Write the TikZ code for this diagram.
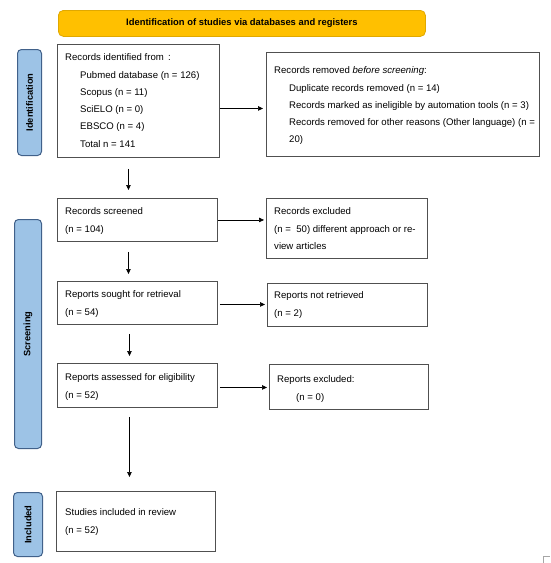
\documentclass[tikz,border=0pt]{standalone}
\usepackage{fontspec}
\setmainfont{Liberation Sans}
\usetikzlibrary{arrows.meta,calc}
\definecolor{hdrfill}{HTML}{FFC000}
\definecolor{hdrdraw}{HTML}{E0A800}
\definecolor{sidefill}{HTML}{9DC3E6}
\definecolor{sidedraw}{HTML}{41618A}
\definecolor{boxdraw}{HTML}{505050}
\begin{document}
\begin{tikzpicture}[x=1pt,y=-1pt,
 flowbox/.style={draw=boxdraw,line width=0.9pt,inner sep=0,anchor=north west},
 txt/.style={font=\fontsize{9.6}{17.3}\selectfont,align=left,inner sep=0,anchor=north west},
 sidebox/.style={draw=sidedraw,fill=sidefill,line width=1pt,rounded corners=4pt,inner sep=0,anchor=north west},
 sidelabel/.style={font=\fontsize{9.3}{11}\selectfont\bfseries,rotate=90,inner sep=0},
 arr/.style={line width=0.7pt,-{Triangle[length=5pt,width=4.5pt]}}]
\useasboundingbox (0,0) rectangle (550,563);
\fill[white] (0,0) rectangle (550,563);

% header
\node[draw=hdrdraw,fill=hdrfill,line width=0.8pt,rounded corners=5pt,anchor=north west,
  minimum width=367pt,minimum height=26pt,inner sep=0,font=\fontsize{9.4}{11}\selectfont\bfseries]
  (hdr) at (58,10) {Identification of studies via databases and registers};

% side boxes
\node[sidebox,minimum width=24pt,minimum height=106pt] (sid) at (17,49) {};
\node[sidelabel] (lid) at (sid.center) {Identification};
\node[sidebox,minimum width=27pt,minimum height=229pt] (sscr) at (14,219) {};
\node[sidelabel] (lscr) at (sscr.center) {Screening};
\node[sidebox,minimum width=29pt,minimum height=64pt] (sinc) at (13,492) {};
\node[sidelabel] (linc) at (sinc.center) {Included};

% flow boxes
\node[flowbox,minimum width=162pt,minimum height=113pt] (id) at (57,44) {};
\node[flowbox,minimum width=273pt,minimum height=104pt] (rem) at (266,52) {};
\node[flowbox,minimum width=160pt,minimum height=43pt] (scr) at (57,198) {};
\node[flowbox,minimum width=161pt,minimum height=60pt] (exc) at (266,198) {};
\node[flowbox,minimum width=160pt,minimum height=43pt] (sou) at (57,281) {};
\node[flowbox,minimum width=160pt,minimum height=43pt] (nre) at (267,283) {};
\node[flowbox,minimum width=160pt,minimum height=44pt] (ass) at (57,363) {};
\node[flowbox,minimum width=159pt,minimum height=45pt] (rex) at (269,364) {};
\node[flowbox,minimum width=159pt,minimum height=60pt] (inc) at (56,491) {};

% texts
\node[txt] (tid) at ([shift={(8,4.4)}]id.north west) {\strut Records identified from\hspace{0.45em}:\\
 \strut\hspace*{15pt}Pubmed database (n = 126)\\
 \strut\hspace*{15pt}Scopus (n = 11)\\
 \strut\hspace*{15pt}SciELO (n = 0)\\
 \strut\hspace*{15pt}EBSCO (n = 4)\\
 \strut\hspace*{15pt}Total n = 141};
\node[txt] (trem) at ([shift={(8,9.4)}]rem.north west) {\strut Records removed \textit{before screening}:\\
 \strut\hspace*{15pt}Duplicate records removed (n = 14)\\
 \strut\hspace*{15pt}Records marked as ineligible by automation tools (n = 3)\\
 \strut\hspace*{15pt}Records removed for other reasons (Other language) (n =\\
 \strut\hspace*{15pt}20)};
\node[txt] (tscr) at ([shift={(8,4.4)}]scr.north west) {\strut Records screened\\ \strut(n = 104)};
\node[txt] (texc) at ([shift={(8,4.4)}]exc.north west) {\strut Records excluded\\ \strut(n =\ \ 50) different approach or re-\\ \strut view articles};
\node[txt] (tsou) at ([shift={(8,4.4)}]sou.north west) {\strut Reports sought for retrieval\\ \strut(n = 54)};
\node[txt] (tnre) at ([shift={(7,3.4)}]nre.north west) {\strut Reports not retrieved\\ \strut(n = 2)};
\node[txt] (tass) at ([shift={(8,5.4)}]ass.north west) {\strut Reports assessed for eligibility\\ \strut(n = 52)};
\node[txt] (trex) at ([shift={(8,6.4)}]rex.north west) {\strut Reports excluded:\\ \strut\hspace*{19pt}(n = 0)};
\node[txt] (tinc) at ([shift={(9,12.4)}]inc.north west) {\strut Studies included in review\\ \strut(n = 52)};

% horizontal connectors
\coordinate (h1) at ($(id.east)+(0,7.5)$);
\draw[arr,shorten >=3pt] (h1) -- (h1 -| rem.west);
\coordinate (h2) at (scr.east);
\draw[arr,shorten >=2pt] (h2) -- (h2 -| exc.west);
\coordinate (h3) at ($(sou.east)+(0,1.5)$);
\draw[arr,shorten <=2pt,shorten >=2pt] (h3) -- (h3 -| nre.west);
\coordinate (h4) at ($(ass.east)+(0,2)$);
\draw[arr,shorten <=2pt,shorten >=2pt] (h4) -- (h4 -| rex.west);

% vertical connectors
\coordinate (v1) at ($(id.south)+(-10,0)$);
\draw[arr,shorten <=11pt,shorten >=8pt] (v1) -- (v1 |- scr.north);
\coordinate (v2) at ($(scr.south)+(-9,0)$);
\draw[arr,shorten <=10pt,shorten >=7pt] (v2) -- (v2 |- sou.north);
\coordinate (v3) at ($(sou.south)+(-8,0)$);
\draw[arr,shorten <=9pt,shorten >=7pt] (v3) -- (v3 |- ass.north);
\coordinate (v4) at ($(ass.south)+(-8,0)$);
\draw[arr,shorten <=9pt,shorten >=14pt] (v4) -- (v4 |- inc.north);

% corner mark
\draw[gray!70,line width=0.6pt] (543,563) -- (543,556) -- (550,556);
\end{tikzpicture}
\end{document}
